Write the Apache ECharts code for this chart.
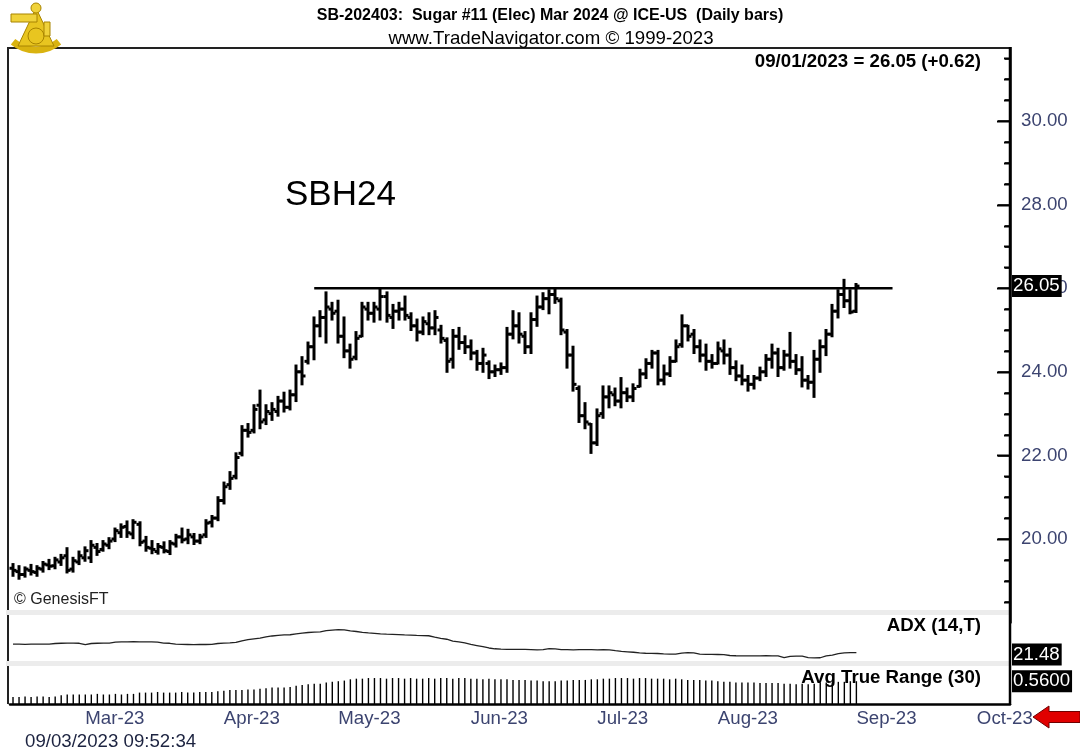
<!DOCTYPE html>
<html><head><meta charset="utf-8">
<script src="https://cdn.jsdelivr.net/npm/echarts@6/dist/echarts.min.js"></script>
<style>html,body{margin:0;padding:0;background:#fff;}#c{width:1080px;height:755px;}</style>
</head><body><div id="c"></div>
<script>
// ---- trading-day categories (day numbers per month) ----
const feb=[10,13,14,15,16,17,21,22,23,24,27,28];
const mar=[1,2,3,6,7,8,9,10,13,14,15,16,17,20,21,22,23,24,27,28,29,30,31];
const apr=[3,4,5,6,10,11,12,13,14,17,18,19,20,21,24,25,26,27,28];
const may=[1,2,3,4,5,8,9,10,11,12,15,16,17,18,19,22,23,24,25,26,30,31];
const jun=[1,2,5,6,7,8,9,12,13,14,15,16,20,21,22,23,26,27,28,29,30];
const jul=[3,5,6,7,10,11,12,13,14,17,18,19,20,21,24,25,26,27,28,31];
const aug=[1,2,3,4,7,8,9,10,11,14,15,16,17,18,21,22,23,24,25,28,29,30,31];
const sep=[1,5,6,7,8,11,12,13,14,15,18,19,20,21,22,25,26,27,28,29];
const oct=[2,3,4,5,6,9];

// ---- daily OHLC (Sugar #11 Mar 2024) ----
const opens=[19.30,19.22,19.15,19.25,19.20,19.28,19.38,19.36,19.45,19.60,19.28,19.45,19.55,19.55,19.80,19.75,19.85,20.00,20.15,20.30,
20.12,20.35,19.95,19.78,19.70,19.80,19.70,19.88,20.05,20.00,20.05,19.95,20.10,20.40,20.50,20.92,21.30,21.50,22.05,22.60,
22.60,23.20,22.85,23.00,23.05,23.30,23.15,23.45,24.00,24.25,24.60,25.10,25.30,25.50,25.45,24.85,24.50,24.35,24.85,25.50,
25.40,25.50,25.80,25.30,25.45,25.50,25.30,25.10,24.95,25.15,25.05,25.00,24.75,24.30,24.85,24.70,24.60,24.45,24.20,24.20,
24.00,24.05,24.10,24.90,25.10,24.85,24.60,25.25,25.55,25.75,25.85,25.70,24.95,24.40,23.60,22.95,22.75,22.30,23.00,23.40,
23.45,23.30,23.50,23.40,23.65,23.95,24.20,24.45,23.80,23.95,24.25,24.65,25.10,24.90,24.60,24.40,24.25,24.20,24.50,24.40,
24.10,23.90,23.80,23.70,23.85,24.00,24.30,24.45,24.10,24.40,24.25,24.05,23.80,23.75,24.30,24.60,24.90,25.45,25.85,25.70,25.45];
const highs=[19.40,19.35,19.32,19.38,19.35,19.45,19.50,19.55,19.62,19.78,19.55,19.70,19.80,19.95,19.88,19.95,20.02,20.25,20.35,20.42,
20.45,20.40,20.05,19.95,19.88,19.92,19.95,20.10,20.25,20.22,20.12,20.10,20.45,20.55,21.00,21.35,21.60,22.05,22.70,22.75,
23.20,23.55,23.20,23.25,23.40,23.50,23.55,24.15,24.35,24.70,25.30,25.45,25.90,25.65,25.70,25.30,24.65,24.95,25.65,25.65,
25.65,25.97,25.90,25.60,25.65,25.80,25.40,25.25,25.30,25.40,25.45,25.10,24.80,25.00,25.05,24.85,24.75,24.50,24.55,24.25,
24.15,24.20,25.05,25.45,25.40,24.95,25.40,25.80,25.88,25.95,25.97,25.75,25.00,24.60,23.65,23.25,22.75,23.10,23.65,23.65,
23.60,23.85,23.60,23.70,24.05,24.30,24.50,24.50,24.15,24.35,24.75,25.35,25.10,25.00,24.75,24.65,24.40,24.70,24.75,24.55,
24.25,24.15,23.90,23.90,24.10,24.40,24.65,24.55,24.50,24.93,24.40,24.35,23.90,24.50,24.75,25.00,25.60,25.95,26.20,25.95,26.10];
const lows=[19.12,19.05,19.10,19.15,19.12,19.22,19.28,19.30,19.38,19.20,19.22,19.40,19.48,19.45,19.62,19.72,19.78,19.95,20.05,20.05,
20.02,19.85,19.72,19.66,19.65,19.68,19.64,19.82,19.92,19.90,19.88,19.90,20.05,20.30,20.45,20.85,21.20,21.45,22.00,22.45,
22.55,22.65,22.75,22.85,22.95,23.05,23.10,23.30,23.70,24.20,24.30,24.85,24.70,25.25,24.70,24.35,24.10,24.30,24.85,25.25,
25.20,25.25,25.20,25.05,25.25,25.25,25.00,24.75,24.90,24.90,24.90,24.70,24.00,24.10,24.55,24.45,24.30,24.05,24.00,23.85,
23.90,23.95,24.00,24.80,24.70,24.45,24.45,25.10,25.50,25.40,25.65,24.90,24.10,23.55,22.80,22.65,22.06,22.25,22.90,23.15,
23.20,23.15,23.30,23.30,23.65,23.85,24.10,23.70,23.70,23.90,24.25,24.60,24.75,24.45,24.25,24.05,24.10,24.20,24.20,23.95,
23.80,23.70,23.55,23.60,23.80,23.90,24.10,23.90,24.05,24.10,23.95,23.65,23.60,23.40,24.00,24.40,24.85,25.30,25.55,25.40,25.43];
const closes=[19.25,19.15,19.28,19.22,19.30,19.40,19.35,19.50,19.55,19.25,19.48,19.60,19.72,19.85,19.70,19.88,19.95,20.20,20.28,20.15,
20.40,19.92,19.80,19.75,19.82,19.72,19.90,20.05,19.98,20.10,19.95,20.05,20.38,20.50,20.92,21.25,21.45,21.95,22.60,22.55,
23.10,22.80,23.05,23.10,23.30,23.15,23.45,24.00,23.90,24.60,25.10,25.30,25.55,25.40,24.85,24.50,24.30,24.80,25.55,25.40,
25.55,25.80,25.35,25.45,25.50,25.35,25.10,24.95,25.20,25.05,25.30,24.80,24.25,24.85,24.70,24.60,24.45,24.20,24.40,24.00,
24.05,24.10,24.90,25.10,24.90,24.60,25.25,25.55,25.75,25.85,25.75,25.00,24.40,23.70,22.95,22.80,22.30,22.95,23.40,23.50,
23.30,23.50,23.40,23.60,23.95,24.20,24.45,23.80,23.95,24.25,24.60,25.10,24.85,24.60,24.40,24.25,24.20,24.55,24.40,24.10,
23.90,23.80,23.70,23.85,24.00,24.30,24.45,24.10,24.40,24.25,24.05,23.80,23.75,24.30,24.60,24.90,25.45,25.85,25.70,25.43,26.05];

// ---- ADX (14,T) ----
const adx=[29.0,29.0,28.9,29.0,29.1,29.0,29.1,29.6,29.8,29.9,29.9,29.8,28.6,29.6,29.8,29.9,30.0,
30.8,31.0,31.1,31.2,31.1,31.0,31.1,30.9,30.0,29.8,29.0,28.8,28.7,28.6,28.7,28.7,28.8,
29.6,30.0,30.2,30.6,32.0,33.0,33.8,34.4,35.5,36.3,36.9,37.2,37.4,38.2,38.9,39.4,39.7,39.9,
41.0,41.6,42.0,41.8,40.8,40.3,39.6,39.1,38.7,38.2,37.9,37.7,37.5,37.2,37.0,36.8,36.7,36.5,
35.2,34.2,33.4,31.8,31.0,30.2,28.8,27.8,26.8,25.6,24.9,24.5,24.4,24.3,24.4,24.3,24.2,
23.9,24.2,25.0,24.8,24.2,24.1,24.0,24.1,24.2,24.1,24.0,24.1,23.9,23.2,22.6,22.2,21.8,
21.2,20.9,20.8,20.7,20.3,20.2,20.1,21.0,21.4,21.2,20.2,19.9,19.9,19.8,19.6,
18.9,18.7,18.6,18.6,18.5,18.6,18.7,18.6,18.5,17.0,18.2,18.4,18.3,17.0,16.8,16.9,18.6,19.3,20.6,21.2,21.4,21.48];

// ---- Avg True Range (30) ----
const atr=[0.31,0.31,0.32,0.31,0.32,0.32,0.31,0.32,
0.34,0.35,0.35,0.35,0.35,0.35,0.36,0.35,0.35,0.36,0.35,0.36,0.36,
0.38,0.38,0.38,0.39,0.38,0.38,0.38,0.39,0.38,0.38,0.39,0.39,0.39,0.40,
0.41,0.42,0.42,0.42,0.43,0.43,0.44,0.45,0.46,0.46,0.46,0.47,0.49,0.50,0.51,0.52,0.52,
0.54,0.55,0.56,0.57,
0.59,0.60,0.60,0.61,0.61,0.61,0.60,0.61,0.61,0.60,0.61,0.60,0.60,0.61,0.60,0.61,0.61,0.60,0.61,0.61,0.60,0.60,0.59,0.60,0.59,0.59,0.59,0.58,0.58,0.58,0.57,
0.57,0.56,0.56,0.56,0.57,0.57,0.58,0.58,0.58,0.59,0.59,0.60,
0.60,0.61,0.61,0.61,0.60,0.61,0.61,0.60,0.60,0.60,0.59,0.60,0.59,
0.58,0.58,0.58,0.57,0.57,0.56,0.55,0.55,0.54,0.54,0.54,0.54,0.53,0.53,0.53,0.53,
0.52,0.52,0.51,0.52,0.51,0.52,0.53,0.54,0.54,0.55,0.55,0.56,0.56];

// ---- axis settings / annotations ----
const priceMin=18, priceMax=32, priceStep=2;
const priceTickValues=[18.5,19,19.5,20,20.5,21,21.5,22,22.5,23,23.5,24,24.5,25,25.5,26,26.5,27,27.5,28,28.5,29,29.5,30,30.5,31,31.5];
const adxMin=14, adxMax=55;
const atrMin=0.2, atrMax=0.8;
const resistanceLevel=26.0, resistanceStart='2023-04-25', resistanceEnd='2023-09-12';
const monthNames=['Jan','Feb','Mar','Apr','May','Jun','Jul','Aug','Sep','Oct','Nov','Dec'];

const monthDays=[['2023-02',feb],['2023-03',mar],['2023-04',apr],['2023-05',may],['2023-06',jun],
  ['2023-07',jul],['2023-08',aug],['2023-09',sep],['2023-10',oct]];
const dates=[];
monthDays.forEach(([m,ds])=>ds.forEach(d=>dates.push(m+'-'+String(d).padStart(2,'0'))));
const firstOfMonth=dates.map((d,i)=>i>0 && d.slice(0,7)!==dates[i-1].slice(0,7));
function monthLabel(v){const p=v.split('-');return monthNames[+p[1]-1]+'-'+p[0].slice(2);}

const ohlc=opens.map((o,i)=>[i,o,highs[i],lows[i],closes[i]]);
const FONT='"Liberation Sans", Arial, sans-serif';
const LBL='#3c4470';
const AXIS_X=1010;

const chart=echarts.init(document.getElementById('c'),null,{renderer:'canvas'});
const gridBase={left:10,right:70};
const hiddenX=(g)=>({type:'category',gridIndex:g,data:dates,boundaryGap:true,
  axisLine:{show:false},axisTick:{show:false},axisLabel:{show:false},splitLine:{show:false}});

const option={
  animation:false,
  backgroundColor:'#fff',
  grid:[
    Object.assign({top:37.4,height:585.2},gridBase),
    Object.assign({top:615,height:46},gridBase),
    Object.assign({top:666,height:38},gridBase)
  ],
  xAxis:[hiddenX(0),hiddenX(1),
    {type:'category',gridIndex:2,data:dates,boundaryGap:true,
     axisLine:{show:true,lineStyle:{color:'#000',width:2.5}},axisTick:{show:false},splitLine:{show:false},
     axisLabel:{show:true,interval:(i)=>firstOfMonth[i],formatter:monthLabel,align:'left',margin:5,
       fontSize:18.67,fontFamily:FONT,color:LBL,hideOverlap:false}}],
  yAxis:[
    {type:'value',gridIndex:0,position:'right',min:priceMin,max:priceMax,interval:priceStep,
     axisLine:{show:true,lineStyle:{color:'#000',width:2.5}},splitLine:{show:false},
     axisTick:{show:true,inside:true,length:12,lineStyle:{color:'#000',width:1.5}},
     minorTick:{show:true,splitNumber:4,length:5,lineStyle:{color:'#000',width:1.5}},
     axisLabel:{show:true,margin:11,fontSize:18.67,fontFamily:FONT,color:LBL,
       formatter:(v)=>(v<=priceMin||v>=priceMax)?'':v.toFixed(2)}},
    {type:'value',gridIndex:1,position:'right',min:adxMin,max:adxMax,
     axisLine:{show:false},axisTick:{show:false},axisLabel:{show:false},splitLine:{show:false}},
    {type:'value',gridIndex:2,position:'right',min:atrMin,max:atrMax,
     axisLine:{show:false},axisTick:{show:false},axisLabel:{show:false},splitLine:{show:false}}
  ],
  series:[
    {type:'custom',xAxisIndex:0,yAxisIndex:0,data:ohlc,encode:{x:0,y:[1,2,3,4]},z:5,
     renderItem:function(params,api){
       const i=api.value(0);
       const pH=api.coord([i,api.value(2)]), pL=api.coord([i,api.value(3)]);
       const pO=api.coord([i,api.value(1)]), pC=api.coord([i,api.value(4)]);
       const x=Math.round(pH[0]), t=3.5, st={stroke:'#000',lineWidth:3};
       return {type:'group',children:[
         {type:'line',shape:{x1:x,y1:pH[1]-1,x2:x,y2:pL[1]+1},style:st},
         {type:'line',shape:{x1:x-t,y1:pO[1],x2:x,y2:pO[1]},style:st},
         {type:'line',shape:{x1:x,y1:pC[1],x2:x+t,y2:pC[1]},style:st}]};
     }},
    {type:'line',xAxisIndex:0,yAxisIndex:0,showSymbol:false,symbol:'none',silent:true,z:4,
     data:[[resistanceStart,resistanceLevel],[resistanceEnd,resistanceLevel]],
     lineStyle:{color:'#000',width:2.5}},
    {type:'line',xAxisIndex:1,yAxisIndex:1,showSymbol:false,symbol:'none',silent:true,
     data:adx,lineStyle:{color:'#222',width:1.3}},
    {type:'custom',xAxisIndex:2,yAxisIndex:2,data:atr.map((v,i)=>[i,v]),encode:{x:0,y:1},
     renderItem:function(params,api){
       const i=api.value(0);
       const p1=api.coord([i,atrMin]), p2=api.coord([i,api.value(1)]);
       return {type:'line',shape:{x1:p1[0],y1:p1[1],x2:p2[0],y2:p2[1]},style:{stroke:'#000',lineWidth:1.4}};
     }}
  ]
};
chart.setOption(option);

const last=closes.length-1;
const chg=closes[last]-closes[last-1];
const lastDate=dates[last].split('-');
const infoText=lastDate[1]+'/'+lastDate[2]+'/'+lastDate[0]+' = '+closes[last].toFixed(2)+' ('+(chg>=0?'+':'')+chg.toFixed(2)+')';
const yPrice=chart.convertToPixel({yAxisIndex:0},closes[last]);
const yAdx=chart.convertToPixel({yAxisIndex:1},adx[adx.length-1]);
const yAtr=chart.convertToPixel({yAxisIndex:2},atr[atr.length-1]);

function txt(id,text,x,y,font,align,fill){
  return {id:id,type:'text',z:100,style:{text:text,x:x,y:y,font:font,align:align||'left',verticalAlign:'middle',
    textAlign:align||'left',textVerticalAlign:'middle',fill:fill||'#000'}};
}
function box(id,text,y){
  return {id:id,type:'text',z:110,style:{text:text,x:1012,y:y,font:'18.67px '+FONT,fill:'#fff',
    align:'left',verticalAlign:'middle',backgroundColor:'#000',padding:[2,2,1,1]}};
}
const G=[
  {id:'cv1',type:'rect',z:90,shape:{x:985,y:26,width:32,height:21},style:{fill:'#fff'}},
  {id:'cv2',type:'rect',z:90,shape:{x:985,y:616,width:24,height:12},style:{fill:'#fff'}},
  {id:'sp1',type:'rect',z:95,shape:{x:6,y:610,width:1003,height:5},style:{fill:'#ececec'}},
  {id:'sp2',type:'rect',z:95,shape:{x:6,y:661,width:1003,height:5},style:{fill:'#ececec'}},
  {id:'fT',type:'line',z:94,shape:{x1:7,y1:48,x2:1011,y2:48},style:{stroke:'#222',lineWidth:2}},
  {id:'fL',type:'line',z:94,shape:{x1:8,y1:48,x2:8,y2:704},style:{stroke:'#222',lineWidth:2}},
  {id:'fR',type:'line',z:96,shape:{x1:AXIS_X,y1:47,x2:AXIS_X,y2:705},style:{stroke:'#000',lineWidth:2.5}},
  txt('t1','SB-202403:  Sugar #11 (Elec) Mar 2024 @ ICE-US  (Daily bars)',550,16,'bold 16px '+FONT,'center'),
  txt('t2','www.TradeNavigator.com \u00a9 1999-2023',551,39,'18.67px '+FONT,'center'),
  txt('t3',infoText,981,62,'bold 18.67px '+FONT,'right'),
  txt('t4','SBH24',285,195,'35px '+FONT,'left'),
  txt('t5','\u00a9 GenesisFT',14,600,'16px '+FONT,'left','#222'),
  txt('t6','ADX (14,T)',981,626,'bold 18.67px '+FONT,'right'),
  txt('t7','Avg True Range (30)',981,678,'bold 18.67px '+FONT,'right'),
  txt('t8','09/03/2023 09:52:34',25,742,'18.67px '+FONT,'left','#1c2340'),
  box('b1',closes[last].toFixed(2),yPrice),
  box('b2',adx[adx.length-1].toFixed(2),yAdx+2),
  box('b3',atr[atr.length-1].toFixed(4),yAtr),
  {id:'arr',type:'polygon',z:100,shape:{points:[[1033,717],[1049,706],[1049,711.5],[1080,711.5],[1080,722.5],[1049,722.5],[1049,728]]},
   style:{fill:'#e00000',stroke:'#700000',lineWidth:1}},
  {id:'lg1',type:'arc',z:100,shape:{cx:36,cy:14,r:36,startAngle:Math.PI*0.28,endAngle:Math.PI*0.72},style:{stroke:'#d9b310',lineWidth:7,fill:null}},
  {id:'lg2',type:'polygon',z:100,shape:{points:[[36,8],[54,46],[18,46]]},style:{fill:'#e8c520',stroke:'#a88400',lineWidth:1}},
  {id:'lg3',type:'rect',z:101,shape:{x:11,y:14,width:26,height:8},style:{fill:'#f0d23a',stroke:'#a88400',lineWidth:1}},
  {id:'lg4',type:'circle',z:101,shape:{cx:36,cy:8,r:5},style:{fill:'#f0d23a',stroke:'#a88400',lineWidth:1}},
  {id:'lg5',type:'circle',z:101,shape:{cx:36,cy:36,r:8},style:{fill:'#e8c520',stroke:'#a88400',lineWidth:1}},
  {id:'lg6',type:'rect',z:101,shape:{x:44,y:22,width:6,height:14},style:{fill:'#f0d23a',stroke:'#a88400',lineWidth:1}}
];
// price-axis tick marks: vertical position through the axis scale (major every 2, minor every 0.5)
priceTickValues.forEach((v,k)=>{
  const y=Math.round(chart.convertToPixel({yAxisIndex:0},v))+0.5;
  const len=(v%2===0)?13:6;
  G.push({id:'tk'+k,type:'rect',z:120,shape:{x:AXIS_X-len,y:y-1,width:len,height:2},style:{fill:'#000'}});
});
chart.setOption({graphic:G});
</script></body></html>
